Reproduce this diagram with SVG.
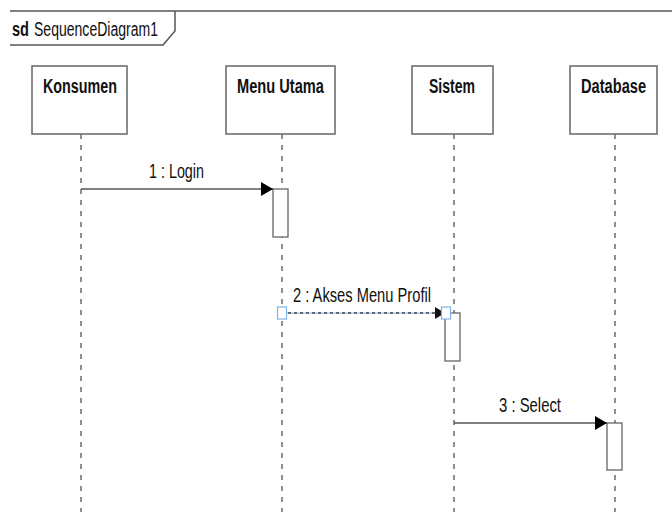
<svg xmlns="http://www.w3.org/2000/svg" width="672" height="515" viewBox="0 0 672 515">
  <defs>
    <style>
      .frame { fill: none; stroke: #555; stroke-width: 1.5; }
      .head { fill: #fff; stroke: #666; stroke-width: 1.5; }
      .life { stroke: #555; stroke-width: 1.3; stroke-dasharray: 5 6; }
      .act { fill: #fff; stroke: #666; stroke-width: 1.3; }
      .msg { stroke: #555; stroke-width: 1.5; fill: none; }
      .name { font-family: "Liberation Sans", Arial, sans-serif; font-size: 21px; font-weight: bold; fill: #111; }
      .lbl { font-family: "Liberation Sans", Arial, sans-serif; font-size: 20px; fill: #111; }
      .handle { fill: #fff; stroke: #7fb2ee; stroke-width: 1.2; }
    </style>
    <marker id="arrow" markerWidth="12" markerHeight="14" refX="12" refY="7" orient="auto" markerUnits="userSpaceOnUse">
      <path d="M0,0 L12,7 L0,14 Z" fill="#000"/>
    </marker>
    <marker id="arrowSmall" markerWidth="10" markerHeight="12" refX="10" refY="6" orient="auto" markerUnits="userSpaceOnUse">
      <path d="M0,0 L10,6 L0,12 Z" fill="#111"/>
    </marker>
  </defs>
  <rect width="672" height="515" fill="#fff"/>

  <!-- sd frame -->
  <g id="frame">
    <line class="frame" x1="10" y1="11" x2="672" y2="11"/>
    <path class="frame" d="M10,45 L163,45 L175,31 L175,11"/>
    <text x="12" y="36" class="lbl" font-size="19" font-weight="bold" textLength="17" lengthAdjust="spacingAndGlyphs">sd</text>
    <text x="34" y="36" class="lbl" font-size="19" textLength="124" lengthAdjust="spacingAndGlyphs">SequenceDiagram1</text>
  </g>

  <!-- lifelines: head box, condensed name, dashed line -->
  <g id="konsumen">
    <line class="life" x1="81" y1="134" x2="81" y2="512"/>
    <rect class="head" x="32" y="66" width="95" height="68"/>
    <text class="name" transform="translate(43,93) scale(0.7,1)" textLength="105.7" lengthAdjust="spacingAndGlyphs">Konsumen</text>
  </g>
  <g id="menu-utama">
    <line class="life" x1="282" y1="134" x2="282" y2="512"/>
    <rect class="head" x="226" y="66" width="109" height="68"/>
    <text class="name" transform="translate(237,93) scale(0.7,1)" textLength="124.3" lengthAdjust="spacingAndGlyphs">Menu Utama</text>
  </g>
  <g id="sistem">
    <line class="life" x1="454" y1="134" x2="454" y2="512"/>
    <rect class="head" x="412" y="66" width="81" height="68"/>
    <text class="name" transform="translate(429,93) scale(0.7,1)" textLength="65.7" lengthAdjust="spacingAndGlyphs">Sistem</text>
  </g>
  <g id="database">
    <line class="life" x1="615" y1="134" x2="615" y2="512"/>
    <rect class="head" x="570" y="66" width="87" height="68"/>
    <text class="name" transform="translate(581,93) scale(0.7,1)" textLength="92.9" lengthAdjust="spacingAndGlyphs">Database</text>
  </g>

  <!-- activation bars -->
  <g id="activations">
    <rect class="act" x="273" y="189" width="15" height="48"/>
    <rect class="act" x="445" y="313" width="15" height="48"/>
    <rect class="act" x="607" y="423" width="15" height="47"/>
  </g>

  <!-- messages -->
  <g id="connectors">
    <line class="msg" x1="81" y1="189" x2="273" y2="189" marker-end="url(#arrow)"/>
    <text x="149" y="178" class="lbl" textLength="55" lengthAdjust="spacingAndGlyphs">1 : Login</text>

    <line x1="282" y1="313" x2="445" y2="313" stroke="#7fb2ee" stroke-width="1"/>
    <line x1="282" y1="313" x2="445" y2="313" stroke="#444" stroke-width="1.5" stroke-dasharray="3 3" marker-end="url(#arrowSmall)"/>
    <text x="293" y="302" class="lbl" textLength="138" lengthAdjust="spacingAndGlyphs">2 : Akses Menu Profil</text>
    <rect class="handle" x="277.5" y="307" width="9" height="12"/>
    <rect class="handle" x="441.5" y="307" width="9" height="12"/>

    <line class="msg" x1="454" y1="423" x2="607" y2="423" marker-end="url(#arrow)"/>
    <text x="499" y="412" class="lbl" textLength="62" lengthAdjust="spacingAndGlyphs">3 : Select</text>
  </g>
</svg>
